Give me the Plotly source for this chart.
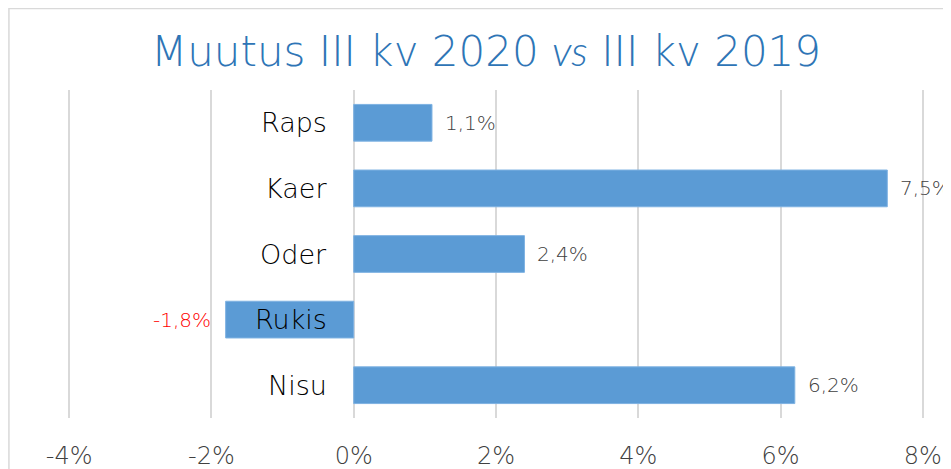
import plotly.graph_objects as go

categories = ["Raps", "Kaer", "Oder", "Rukis", "Nisu"]
values = [1.1, 7.5, 2.4, -1.8, 6.2]
label_colors = ["#404040", "#404040", "#404040", "#FF0000", "#404040"]
tick_vals = [-4, -2, 0, 2, 4, 6, 8]
tick_text = ["-4%", "-2%", "0%", "2%", "4%", "6%", "8%"]

FONT = "DejaVu Sans"
WT = 300
# the page body adds an 8px offset; the figure is sized to fill the rest of the window
W, H = 943, 461
XR = [-4.03, 8.03]
L, T, B = 58.6, 82, 51
pw = 858.3
R = W - L - pw
ph = H - T - B

texts = [f"{v:.1f}%".replace(".", ",") for v in values]

fig = go.Figure()
fig.add_trace(go.Bar(
    y=categories, x=values, orientation="h",
    marker=dict(color="#5B9BD5", line=dict(color="#7EB2E2", width=1)),
    width=0.56,
))

annotations = []
for c, v, t, col in zip(categories, values, texts, label_colors):
    annotations.append(dict(x=v, y=c, xref="x", yref="y", text=t, showarrow=False,
                            xanchor="left" if v >= 0 else "right",
                            xshift=11 if v >= 0 else -13,
                            font=dict(family=FONT, size=20, color=col, weight=WT)))
for c in categories:
    annotations.append(dict(x=0, y=c, xref="x", yref="y", text=c, showarrow=False,
                            xanchor="right", xshift=-25,
                            font=dict(family=FONT, size=27, color="#000000", weight=WT)))
annotations.append(dict(
    x=(478 - L) / pw, y=1 + (T - 42.5) / ph, xref="paper", yref="paper",
    text=('Muutus III kv 2020 <span style="font-family:\'DejaVu Sans ExtraLight\', Lato;'
          'font-style:italic;font-weight:300">vs</span> III kv 2019'),
    showarrow=False, xanchor="center", yanchor="middle",
    font=dict(family=FONT, size=42, color="#2E75B6", weight=WT)))

fig.update_layout(
    width=W, height=H, margin=dict(l=L, r=R, t=T, b=B, autoexpand=False),
    paper_bgcolor="white", plot_bgcolor="white",
    showlegend=False, annotations=annotations,
    shapes=[dict(type="rect", xref="paper", yref="paper",
                 x0=(0.5 - L) / pw, x1=1.2, y0=-0.4, y1=1 + (T - 0.5) / ph,
                 line=dict(color="#D9D9D9", width=1.5), layer="below")],
    xaxis=dict(range=XR, tickvals=tick_vals, ticktext=tick_text, automargin=False,
               showgrid=True, gridcolor="#D9D9D9", gridwidth=1.5,
               zeroline=True, zerolinecolor="#D9D9D9", zerolinewidth=1.5,
               showline=False, ticks="outside", ticklen=16, tickcolor="rgba(0,0,0,0)",
               tickfont=dict(family=FONT, size=24, color="#404040", weight=WT)),
    yaxis=dict(autorange="reversed", showticklabels=False, showgrid=False,
               zeroline=False, showline=False, automargin=False),
    bargap=0.44,
)

fig.write_html("out.html")
